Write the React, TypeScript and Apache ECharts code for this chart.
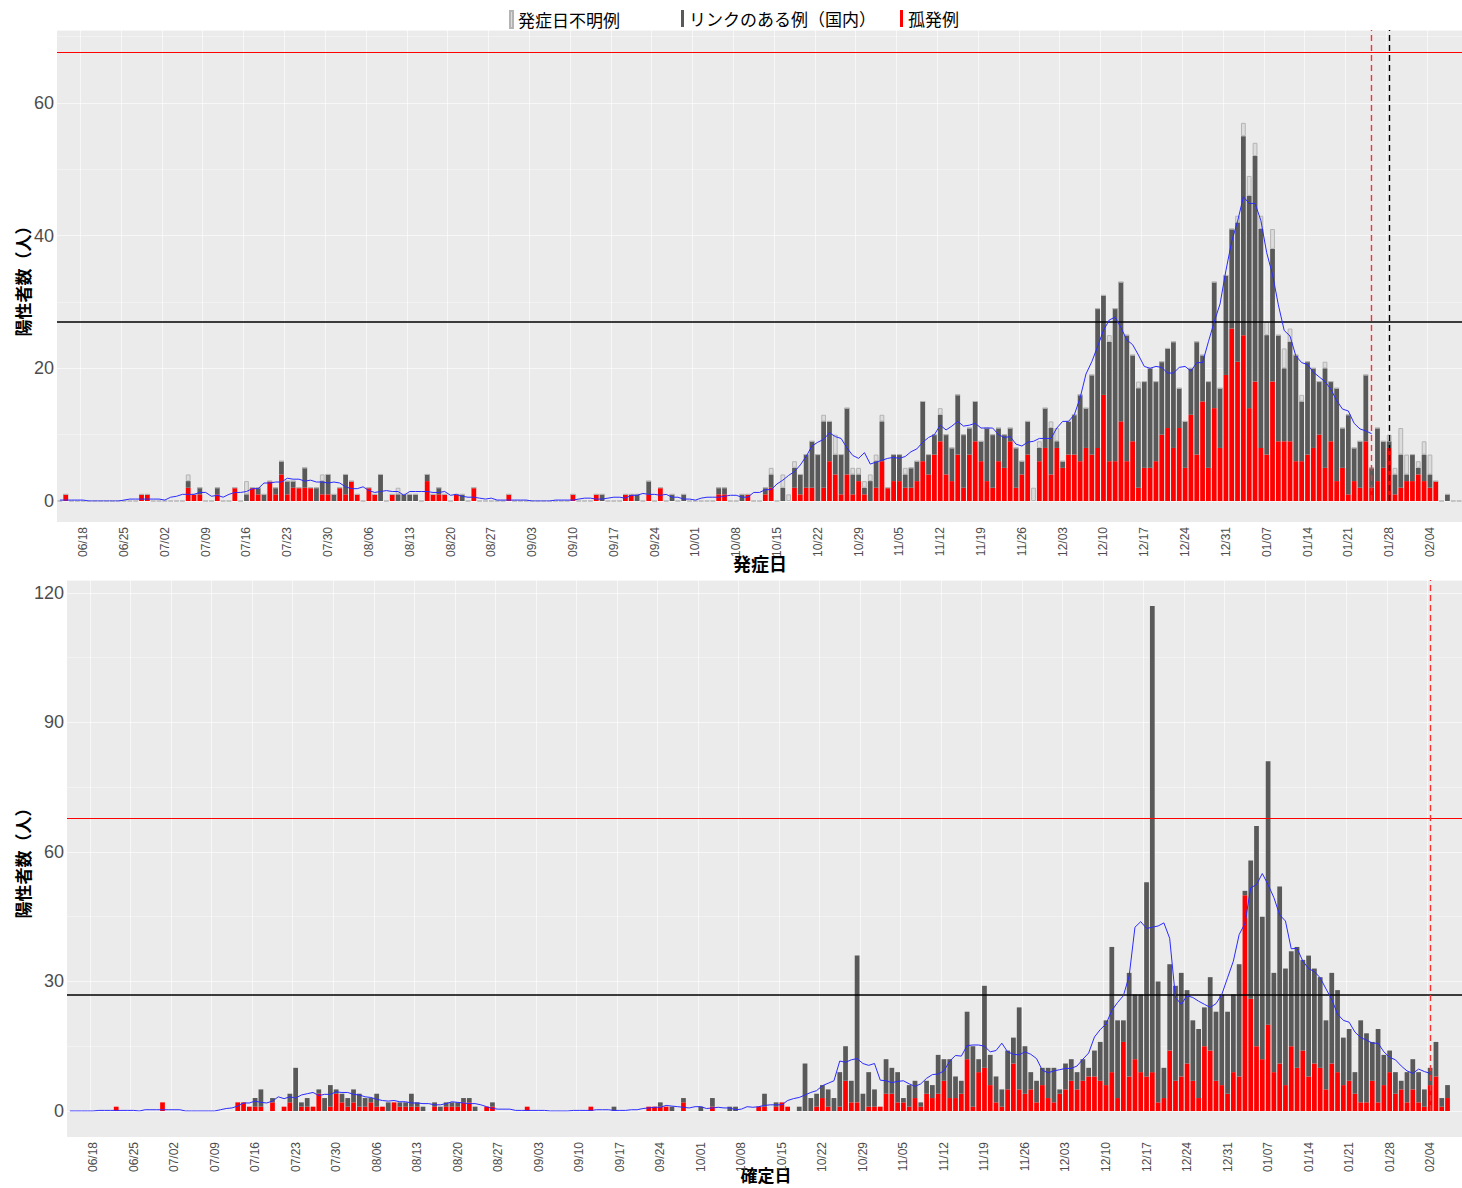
import React, { useEffect, useRef } from "react";
import * as echarts from "echarts";

// ---- categories: one per day, 2020-06-14 .. 2021-02-09 ----
const FIRST_DAY = Date.UTC(2020, 5, 14);
const DAY_COUNT = 241;
const dates: string[] = [];
for (let i = 0; i < DAY_COUNT; i++) {
  const dt = new Date(FIRST_DAY + i * 86400000);
  dates.push(String(dt.getUTCMonth() + 1).padStart(2, "0") + "/" + String(dt.getUTCDate()).padStart(2, "0"));
}
const FIRST_LABEL_INDEX = 4; // 06/18, then every 7 days

// ---- panel 1: by onset date (発症日) ----
const onsetIsolated = [
  0,1,0,0,0,0,0,0,0,0, 0,0,0,0,1,1,0,0,0,0, 0,0,2,1,1,0,0,1,0,0, 2,0,0,2,1,0,3,1,4,1,
  2,2,2,2,0,1,1,0,2,1, 3,1,0,2,1,0,0,1,0,0, 0,0,0,3,1,1,1,0,1,0, 0,2,0,0,0,0,0,1,0,0,
  0,0,0,0,0,0,0,0,1,0, 0,0,1,0,0,0,0,1,1,0, 0,1,0,2,0,0,0,0,0,0, 0,0,0,1,1,0,0,0,1,0,
  0,1,2,0,0,0,2,1,2,2, 0,2,6,4,1,4,1,3,1,0, 2,6,2,3,3,2,2,3,6,4, 7,9,4,3,7,2,7,9,6,3,
  2,6,5,9,2,4,7,0,6,8, 4,8,5,7,7,6,8,7,8,16, 6,6,12,6,9,2,5,5,6,10, 11,8,11,5,13,7,15,5,14,8,
  19,26,21,25,14,18,8,7,18,9, 9,9,6,6,7,8,10,5,9,3, 5,1,3,2,9,2,3,5,8,1, 2,3,3,4,3,2,3,0,0,0,0,
];
const onsetLinked = [
  0,0,0,0,0,0,0,0,0,0, 0,0,0,0,0,0,0,0,0,0, 0,0,1,0,1,0,0,1,0,0, 0,0,1,0,1,1,0,1,2,2,
  1,0,3,0,2,2,3,1,0,3, 0,0,0,0,0,4,0,0,1,1, 1,1,0,1,0,1,0,0,0,1, 0,0,0,0,0,0,0,0,0,0,
  0,0,0,0,0,0,0,0,0,0, 0,0,0,1,0,0,0,0,0,1, 0,2,0,0,0,1,0,1,0,0, 0,0,0,1,1,0,0,1,0,0,
  0,1,2,0,2,0,3,3,5,7, 7,10,6,3,6,10,3,1,1,3, 4,6,0,4,4,2,3,3,9,3, 3,4,6,5,9,8,4,6,3,8,
  8,5,5,2,6,2,5,0,2,6, 7,1,1,5,6,10,6,12,21,15, 18,23,21,19,13,15,13,15,12,11, 12,16,6,7,7,17,7,13,19,9,
  15,15,21,30,32,34,33,18,20,16, 11,15,16,9,14,12,8,15,9,14, 6,12,5,7,10,3,8,4,1,3, 5,1,4,1,4,2,0,0,1,0,0,
];
const onsetUnknown = [
  0,0,0,0,0,0,0,0,0,0, 0,0,0,0,0,0,0,0,0,0, 0,0,1,0,0,0,0,0,0,0, 0,0,2,0,0,0,0,0,0,0,
  0,0,0,0,0,1,0,0,0,0, 0,0,0,0,0,0,0,0,1,0, 0,0,0,0,0,0,0,0,0,0, 0,0,0,0,0,0,0,0,0,0,
  0,0,0,0,0,0,0,0,0,0, 0,0,0,0,0,0,0,0,0,0, 0,0,0,0,0,0,0,0,0,0, 0,0,0,0,0,0,0,0,0,0,
  0,0,1,0,2,1,1,0,0,0, 0,1,0,3,0,0,1,1,1,1, 1,1,0,0,0,1,0,0,0,0, 0,1,0,0,0,0,0,0,0,0,
  0,0,0,0,0,0,0,2,1,0, 1,2,0,0,0,0,0,0,0,0, 1,0,0,0,0,1,0,0,0,0, 0,0,0,0,0,0,0,0,0,0,
  0,0,1,2,3,2,2,2,3,0, 3,2,0,1,0,0,0,1,0,0, 0,0,0,0,0,0,0,0,1,1, 4,3,0,1,2,3,0,0,0,0,0,
];

// ---- panel 2: by confirmation date (確定日) ----
const confIsolated = [
  0,0,0,0,0,0,0,0,1,0, 0,0,0,0,0,0,2,0,0,0, 0,0,0,0,0,0,0,0,0,2, 2,1,1,1,0,2,0,1,2,0,
  1,1,1,4,0,1,4,2,1,2, 1,1,2,1,1,0,2,1,1,1, 1,0,0,1,0,1,1,1,2,2, 0,0,1,1,0,0,0,0,0,1,
  0,0,0,0,0,0,0,0,0,0, 1,0,0,0,0,0,0,0,0,0, 1,1,1,1,0,0,2,0,0,0, 0,1,0,0,0,0,0,0,0,1,
  1,0,1,2,1,0,0,0,0,1, 3,1,0,1,7,2,2,0,1,1, 1,4,4,2,2,1,3,1,4,3, 4,7,3,3,4,12,1,9,10,6,
  2,1,5,11,5,4,5,2,6,3, 2,4,5,7,5,7,8,8,7,6, 9,3,16,8,12,9,8,9,2,3, 14,7,8,11,7,3,15,14,7,6,
  4,9,8,50,26,15,12,20,9,11, 6,15,10,14,8,11,10,5,11,9, 6,7,4,2,2,7,2,6,9,4, 5,2,5,2,1,6,8,1,3,0,0,
];
const confLinked = [
  0,0,0,0,0,0,0,0,0,0, 0,0,0,0,0,0,0,0,0,0, 0,0,0,0,0,0,0,0,0,0, 0,0,2,4,0,1,0,0,2,10,
  1,2,0,1,3,5,1,2,2,3, 3,2,1,3,0,2,0,1,1,3, 1,1,0,1,1,1,1,1,1,1, 1,0,0,1,0,0,0,0,0,0,
  0,0,0,0,0,0,0,0,0,0, 0,0,0,0,1,0,0,0,0,0, 0,0,1,0,1,0,1,0,0,1, 0,2,0,0,1,1,0,0,0,0,
  3,0,1,0,0,0,1,11,3,3, 3,4,3,8,8,5,34,4,8,4, 0,8,6,7,1,5,4,1,3,3, 9,5,9,5,3,11,14,3,19,7,
  6,4,9,6,19,11,4,5,4,7, 8,1,6,5,4,5,2,6,9,15, 29,18,5,24,15,18,45,108,28,7, 20,22,24,17,14,16,9,17,16,21,
  19,18,26,1,32,51,33,61,23,41, 27,22,28,21,28,22,21,16,21,19, 11,12,5,19,16,9,17,7,5,5, 2,7,7,7,4,4,8,2,3,0,0,
];

// reference lines
const LINE_BLACK = 27;
const LINE_RED = 67.7;
const ONSET_CUTOFF = "01/25";
const ONSET_REPORT = "01/28";
const CONF_CUTOFF = "02/04";

const SERIES_UNKNOWN = "発症日不明例";
const SERIES_LINKED = "リンクのある例（国内）";
const SERIES_ISOLATED = "孤発例";

// centred 7-day moving average of the daily totals, drawn up to the cut-off date
function movingAverage(parts: number[][], lastLabel: string): (number | null)[] {
  const last = dates.indexOf(lastLabel);
  const totals = dates.map((_, i) => parts.reduce((s, p) => s + (p[i] || 0), 0));
  return totals.map((_, i) => {
    if (i > last) return null;
    let s = 0;
    for (let k = -3; k <= 3; k++) s += totals[i + k] || 0;
    return Math.round((s / 7) * 100) / 100;
  });
}

const JP = '"Noto Sans CJK JP", "Noto Sans", sans-serif';
const LAT = '"Liberation Sans", Arial, sans-serif';

export default function App() {
  const ref = useRef<HTMLDivElement>(null);
  useEffect(() => {
    if (!ref.current) return;
    const chart = echarts.init(ref.current, undefined, { renderer: "svg" });
    const labelEvery = (idx: number) => idx >= FIRST_LABEL_INDEX && (idx - FIRST_LABEL_INDEX) % 7 === 0;
    const gridLine = "rgba(255,255,255,0.6)";
    const xAxisBase = (gridIndex: number, margin: number) => ({
      type: "category",
      gridIndex,
      data: dates,
      axisLine: { show: false },
      axisTick: { show: false },
      axisLabel: { interval: labelEvery, rotate: 90, margin, fontSize: 12, color: "#4d4d4d", fontFamily: LAT },
      splitLine: { show: true, interval: labelEvery, lineStyle: { color: gridLine, width: 1 } },
    });
    const yAxisBase = (gridIndex: number, max: number, interval: number) => ({
      type: "value",
      gridIndex,
      min: 0,
      max,
      interval,
      axisLine: { show: false },
      axisTick: { show: false },
      axisLabel: {
        fontSize: 18,
        color: "#4d4d4d",
        margin: 3,
        fontFamily: LAT,
        showMaxLabel: false,
        formatter: (v: number) => (v % interval === 0 ? String(v) : ""),
      },
      splitLine: { lineStyle: { color: gridLine, width: 1 } },
      minorTick: { show: false, splitNumber: 2 },
      minorSplitLine: { show: true, lineStyle: { color: "rgba(255,255,255,0.35)", width: 1 } },
    });
    const refLines = (verticals: { x: string; color: string }[]) => ({
      silent: true,
      symbol: ["none", "none"],
      label: { show: false },
      data: [
        { yAxis: LINE_BLACK, lineStyle: { color: "#000000", width: 1.5, type: "solid" } },
        { yAxis: LINE_RED, lineStyle: { color: "#ff0000", width: 1.2, type: "solid" } },
        ...verticals.map((v) => ({ xAxis: v.x, lineStyle: { color: v.color, width: 1.4, type: [6, 4] } })),
      ],
    });
    const legendBase = (name: string, left: number) => ({
      data: [name],
      left,
      top: 10,
      padding: 0,
      itemWidth: 3,
      itemHeight: 17,
      icon: "rect",
      selectedMode: false,
      textStyle: { fontSize: 17, color: "#000", fontFamily: JP },
    });
    const titleStyle = (text: string, size: number) => ({
      text, fontSize: size, fontWeight: "bold", fontFamily: JP, fill: "#000", align: "center", verticalAlign: "middle",
    });

    const option: any = {
      animation: false,
      backgroundColor: "#ffffff",
      legend: [legendBase(SERIES_UNKNOWN, 509), legendBase(SERIES_LINKED, 681), legendBase(SERIES_ISOLATED, 900)],
      grid: [
        { left: 57, right: 0, top: 30, height: 471 },
        { left: 67, right: 0, top: 580, height: 531 },
      ],
      xAxis: [xAxisBase(0, 26), xAxisBase(1, 31)],
      yAxis: [yAxisBase(0, 71, 20), yAxisBase(1, 123, 30)],
      graphic: [
        { type: "rect", z: -10, silent: true, shape: { x: 57, y: 30, width: 1405, height: 492 }, style: { fill: "#ebebeb" } },
        { type: "rect", z: -10, silent: true, shape: { x: 67, y: 580, width: 1395, height: 557 }, style: { fill: "#ebebeb" } },
        { type: "text", x: 760, y: 563, style: titleStyle("発症日", 18) },
        { type: "text", x: 766, y: 1174, style: titleStyle("確定日", 17) },
        { type: "text", x: 22, y: 277, rotation: Math.PI / 2, style: titleStyle("陽性者数（人）", 17) },
        { type: "text", x: 22, y: 859, rotation: Math.PI / 2, style: titleStyle("陽性者数（人）", 17) },
      ],
      series: [
        { name: SERIES_ISOLATED, type: "bar", stack: "onset", xAxisIndex: 0, yAxisIndex: 0, data: onsetIsolated, barCategoryGap: "18%", itemStyle: { color: "#ff0000" } },
        { name: SERIES_LINKED, type: "bar", stack: "onset", xAxisIndex: 0, yAxisIndex: 0, data: onsetLinked, itemStyle: { color: "#595959" } },
        { name: SERIES_UNKNOWN, type: "bar", stack: "onset", xAxisIndex: 0, yAxisIndex: 0, data: onsetUnknown, itemStyle: { color: "#dcdcdc", borderColor: "#b4b4b4", borderWidth: 1 } },
        {
          name: "移動平均（発症日）", type: "line", xAxisIndex: 0, yAxisIndex: 0, z: 5,
          data: movingAverage([onsetIsolated, onsetLinked, onsetUnknown], ONSET_CUTOFF),
          symbol: "none", connectNulls: false,
          lineStyle: { color: "#2b2bff", width: 1 }, itemStyle: { color: "#2b2bff" },
          markLine: refLines([{ x: ONSET_CUTOFF, color: "#ff3030" }, { x: ONSET_REPORT, color: "#000000" }]),
        },
        { name: SERIES_ISOLATED, type: "bar", stack: "conf", xAxisIndex: 1, yAxisIndex: 1, data: confIsolated, barCategoryGap: "18%", itemStyle: { color: "#ff0000" } },
        { name: SERIES_LINKED, type: "bar", stack: "conf", xAxisIndex: 1, yAxisIndex: 1, data: confLinked, itemStyle: { color: "#595959" } },
        {
          name: "移動平均（確定日）", type: "line", xAxisIndex: 1, yAxisIndex: 1, z: 5,
          data: movingAverage([confIsolated, confLinked], CONF_CUTOFF),
          symbol: "none", connectNulls: false,
          lineStyle: { color: "#2b2bff", width: 1 }, itemStyle: { color: "#2b2bff" },
          markLine: refLines([{ x: CONF_CUTOFF, color: "#ff3030" }]),
        },
      ],
    };
    chart.setOption(option);
    return () => chart.dispose();
  }, []);
  return <div ref={ref} style={{ position: "fixed", left: 0, top: 0, width: 1462, height: 1188, background: "#fff" }} />;
}
